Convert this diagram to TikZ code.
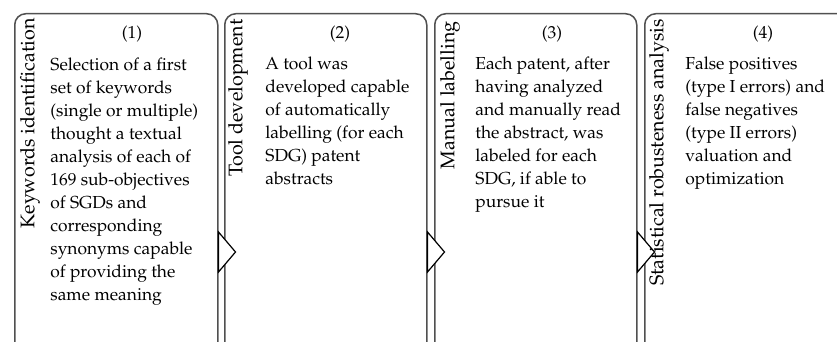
\documentclass[tikz,border=0pt]{standalone}
\usepackage[T1]{fontenc}
\usepackage{mathpazo}
\usetikzlibrary{calc}
\definecolor{boxgray}{HTML}{505050}
\begin{document}
\begin{tikzpicture}[x=0.5pt,y=-0.5pt,
  stagebox/.style={draw=boxgray, line width=0.75pt, rounded corners=5.5pt, fill=white,
    rectangle, anchor=north west, inner sep=0pt, minimum height=180pt},
  bodytext/.style={anchor=north west, align=left, inner sep=0pt, font=\fontsize{8.7}{11.5}\selectfont},
  numtext/.style={inner sep=0pt, font=\fontsize{8.7}{11.5}\selectfont},
  sidetext/.style={rotate=90, anchor=east, inner sep=0pt, font=\fontsize{9.85}{11.5}\selectfont},
  arrowtri/.style={draw=black, line width=0.6pt, fill=white, line join=miter}
]
\clip (0,0) rectangle (837,342);
\fill[white] (0,0) rectangle (837,342);
% boxes
\node[stagebox, minimum width=101.5pt] (b1) at (14,13) {};
\node[stagebox, minimum width=101pt] (b2) at (224,13) {};
\node[stagebox, minimum width=101pt] (b3) at (434,13) {};
\node[stagebox, minimum width=140pt] (b4) at (644,13) {};
% arrow triangles
\draw[arrowtri] ($(b1.north east)+(0,219)$) coordinate (a1) -- ++(17,20) -- ++(-17,20) -- cycle;
\draw[arrowtri] ($(b2.north east)+(0,219)$) coordinate (a2) -- ++(17,20) -- ++(-17,20) -- cycle;
\draw[arrowtri] ($(b3.north east)+(0,219)$) coordinate (a3) -- ++(17,20) -- ++(-17,20) -- cycle;
% side labels
\node[sidetext] (s1) at (30,18) {Keywords identification};
\node[sidetext] (s2) at (238,19) {Tool development};
\node[sidetext] (s3) at (450,21) {Manual labelling};
\node[sidetext] (s4) at (659,19) {Statistical robusteness analysis};
% numbers
\node[numtext] (n1) at (132,34) {(1)};
\node[numtext] (n2) at (340,34) {(2)};
\node[numtext] (n3) at (552,34) {(3)};
\node[numtext] (n4) at (763,34) {(4)};
% body texts
\node[bodytext] (t1) at (50,57.5) {Selection of a first\\set of keywords\\(single or multiple)\\thought a textual\\analysis of each of\\169 sub-objectives\\of SGDs and\\corresponding\\synonyms capable\\of providing the\\same meaning};
\node[bodytext] (t2) at (265,57) {A tool was\\developed capable\\of automatically\\labelling (for each\\SDG) patent\\abstracts};
\node[bodytext] (t3) at (475,57) {Each patent, after\\having analyzed\\and manually read\\the abstract, was\\labeled for each\\SDG, if able to\\pursue it};
\node[bodytext] (t4) at (685,57) {False positives\\(type I errors) and\\false negatives\\(type II errors)\\valuation and\\optimization};
\end{tikzpicture}
\end{document}
